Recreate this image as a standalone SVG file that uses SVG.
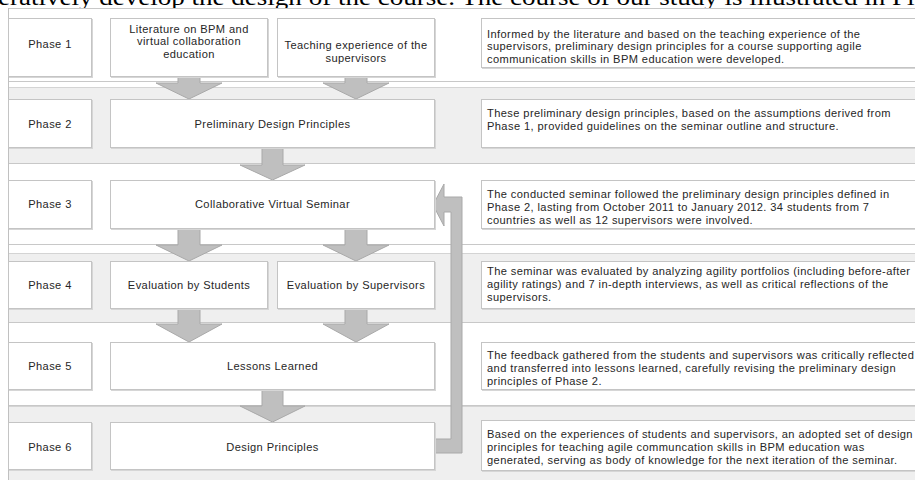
<svg xmlns="http://www.w3.org/2000/svg" width="915" height="480" viewBox="0 0 915 480">
<defs>
<style>
.band-w{fill:#ffffff;stroke:#c8c8c8;stroke-width:1}
.band-g{fill:#efefef;stroke:#d4d4d4;stroke-width:1}
.box{fill:#ffffff;stroke:#c4c4c4;stroke-width:1}
.shadow{fill:#d6d6d6}
.arrow{fill:#bfbfbf;stroke:#a9a9a9;stroke-width:1}
.t{font-family:"Liberation Sans",Arial,sans-serif;font-size:11.1px;letter-spacing:0.4px;fill:#262626}
.c{text-anchor:middle}
.top{font-family:"Liberation Serif","Times New Roman",serif;font-size:24px;fill:#000}
</style>
</defs>
<rect x="0" y="0" width="915" height="480" fill="#ffffff"/>
<text class="top" x="-2" y="5" textLength="930" lengthAdjust="spacingAndGlyphs">eratively develop the design of the course. The course of our study is illustrated in Fig</text>

<g id="bands">
<rect class="band-w" x="8.5" y="8.5" width="912" height="73"/>
<rect class="band-g" x="8.5" y="87.5" width="912" height="76"/>
<rect class="band-w" x="8.5" y="163.5" width="912" height="81"/>
<rect class="band-g" x="8.5" y="253.5" width="912" height="69"/>
<rect class="band-w" x="8.5" y="322.5" width="912" height="83"/>
<rect class="band-g" x="8.5" y="406.5" width="912" height="80"/>
<line x1="8.5" y1="8" x2="8.5" y2="480" stroke="#c0c0c0"/>
</g>

<g id="connectors">
<path class="arrow" d="M178,77 H200 V83 H222 L189,99 L156,83 H178 Z"/>
<path class="arrow" d="M345,77 H367 V83 H389 L356,99 L323,83 H345 Z"/>
<path class="arrow" d="M262,148 H283 V165 H305 L272.5,180 L240,165 H262 Z"/>
<path class="arrow" d="M178,229 H200 V245 H222 L189,261 L156,245 H178 Z"/>
<path class="arrow" d="M345,229 H367 V245 H389 L356,261 L323,245 H345 Z"/>
<path class="arrow" d="M178,309 H200 V324 H222 L189,342 L156,324 H178 Z"/>
<path class="arrow" d="M345,309 H367 V324 H389 L356,342 L323,324 H345 Z"/>
<path class="arrow" d="M262,390 H283 V406 H305 L272.5,422 L240,406 H262 Z"/>
<path class="arrow" d="M435,439 H451 V212 H444 V226 L433,205 L444,184 V197 H462 V453 H435 Z"/>
</g>

<g id="phase1">
<rect class="shadow" x="9" y="19" width="84" height="59"/>
<rect class="box" x="8.5" y="18.5" width="83" height="58"/>
<text class="t c" x="50" y="48">Phase 1</text>
</g>
<g id="literature">
<rect class="shadow" x="111" y="19" width="158" height="59"/>
<rect class="box" x="110.5" y="18.5" width="157" height="58"/>
<text class="t c" x="189" y="32.5">Literature on BPM and</text>
<text class="t c" x="189" y="45.4">virtual collaboration</text>
<text class="t c" x="189" y="58.3">education</text>
</g>
<g id="teaching">
<rect class="shadow" x="278" y="19" width="158" height="59"/>
<rect class="box" x="277.5" y="18.5" width="157" height="58"/>
<text class="t c" x="356" y="49">Teaching experience of the</text>
<text class="t c" x="356" y="61.9">supervisors</text>
</g>
<g id="desc1">
<rect class="shadow" x="482" y="19" width="440" height="50"/>
<rect class="box" x="481.5" y="18.5" width="440" height="49"/>
<text class="t" x="487" y="37.5">Informed by the literature and based on the teaching experience of the</text>
<text class="t" x="487" y="50.4">supervisors, preliminary design principles for a course supporting agile</text>
<text class="t" x="487" y="63.3">communication skills in BPM education were developed.</text>
</g>

<g id="phase2">
<rect class="shadow" x="9" y="100" width="84" height="49"/>
<rect class="box" x="8.5" y="99.5" width="83" height="48"/>
<text class="t c" x="50" y="128">Phase 2</text>
</g>
<g id="preliminary">
<rect class="shadow" x="111" y="100" width="325" height="49"/>
<rect class="box" x="110.5" y="99.5" width="324" height="48"/>
<text class="t c" x="272.5" y="128">Preliminary Design Principles</text>
</g>
<g id="desc2">
<rect class="shadow" x="482" y="100" width="440" height="49"/>
<rect class="box" x="481.5" y="99.5" width="440" height="48"/>
<text class="t" x="487" y="117">These preliminary design principles, based on the assumptions derived from</text>
<text class="t" x="487" y="129.9">Phase 1, provided guidelines on the seminar outline and structure.</text>
</g>

<g id="phase3">
<rect class="shadow" x="9" y="181" width="84" height="49"/>
<rect class="box" x="8.5" y="180.5" width="83" height="48"/>
<text class="t c" x="50" y="208">Phase 3</text>
</g>
<g id="seminar">
<rect class="shadow" x="111" y="181" width="325" height="49"/>
<rect class="box" x="110.5" y="180.5" width="324" height="48"/>
<text class="t c" x="272.5" y="208">Collaborative Virtual Seminar</text>
</g>
<g id="desc3">
<rect class="shadow" x="482" y="181" width="440" height="49"/>
<rect class="box" x="481.5" y="180.5" width="440" height="48"/>
<text class="t" x="487" y="198">The conducted seminar followed the preliminary design principles defined in</text>
<text class="t" x="487" y="210.9">Phase 2, lasting from October 2011 to January 2012. 34 students from 7</text>
<text class="t" x="487" y="223.8">countries as well as 12 supervisors were involved.</text>
</g>

<g id="phase4">
<rect class="shadow" x="9" y="262" width="84" height="48"/>
<rect class="box" x="8.5" y="261.5" width="83" height="47"/>
<text class="t c" x="50" y="289">Phase 4</text>
</g>
<g id="eval-students">
<rect class="shadow" x="111" y="262" width="158" height="48"/>
<rect class="box" x="110.5" y="261.5" width="157" height="47"/>
<text class="t c" x="189" y="289">Evaluation by Students</text>
</g>
<g id="eval-supervisors">
<rect class="shadow" x="278" y="262" width="158" height="48"/>
<rect class="box" x="277.5" y="261.5" width="157" height="47"/>
<text class="t c" x="356" y="289">Evaluation by Supervisors</text>
</g>
<g id="desc4">
<rect class="shadow" x="482" y="262" width="440" height="48"/>
<rect class="box" x="481.5" y="261.5" width="440" height="47"/>
<text class="t" x="487" y="275">The seminar was evaluated by analyzing agility portfolios (including before-after</text>
<text class="t" x="487" y="287.9">agility ratings) and 7 in-depth interviews, as well as critical reflections of the</text>
<text class="t" x="487" y="300.8">supervisors.</text>
</g>

<g id="phase5">
<rect class="shadow" x="9" y="343" width="84" height="48"/>
<rect class="box" x="8.5" y="342.5" width="83" height="47"/>
<text class="t c" x="50" y="370">Phase 5</text>
</g>
<g id="lessons">
<rect class="shadow" x="111" y="343" width="325" height="48"/>
<rect class="box" x="110.5" y="342.5" width="324" height="47"/>
<text class="t c" x="272.5" y="370">Lessons Learned</text>
</g>
<g id="desc5">
<rect class="shadow" x="482" y="343" width="440" height="48"/>
<rect class="box" x="481.5" y="342.5" width="440" height="47"/>
<text class="t" x="487" y="359">The feedback gathered from the students and supervisors was critically reflected</text>
<text class="t" x="487" y="371.9">and transferred into lessons learned, carefully revising the preliminary design</text>
<text class="t" x="487" y="384.8">principles of Phase 2.</text>
</g>

<g id="phase6">
<rect class="shadow" x="9" y="423" width="84" height="48"/>
<rect class="box" x="8.5" y="422.5" width="83" height="47"/>
<text class="t c" x="50" y="451">Phase 6</text>
</g>
<g id="design-principles">
<rect class="shadow" x="111" y="423" width="325" height="48"/>
<rect class="box" x="110.5" y="422.5" width="324" height="47"/>
<text class="t c" x="272.5" y="451">Design Principles</text>
</g>
<g id="desc6">
<rect class="shadow" x="482" y="421" width="440" height="51"/>
<rect class="box" x="481.5" y="420.5" width="440" height="50"/>
<text class="t" x="487" y="438">Based on the experiences of students and supervisors, an adopted set of design</text>
<text class="t" x="487" y="451.2">principles for teaching agile communcation skills in BPM education was</text>
<text class="t" x="487" y="464.4">generated, serving as body of knowledge for the next iteration of the seminar.</text>
</g>
</svg>
